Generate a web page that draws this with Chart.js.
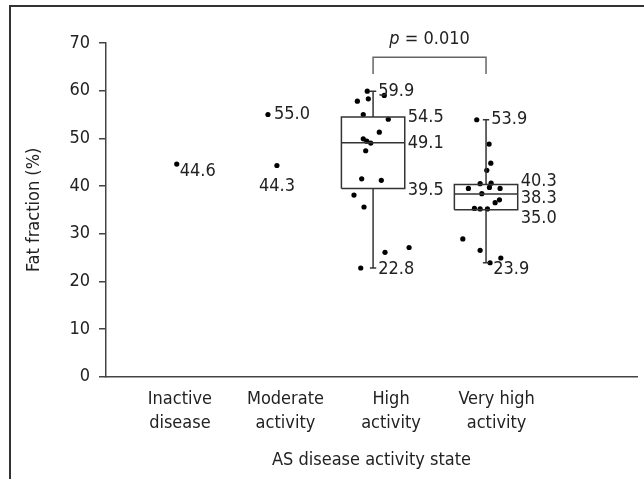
<!DOCTYPE html>
<html>
<head>
<meta charset="utf-8">
<script src="https://cdn.jsdelivr.net/npm/chart.js@4/dist/chart.umd.min.js"></script>
<style>
  html, body { margin: 0; padding: 0; background: #fff; }
  #wrap { position: relative; width: 644px; height: 479px; overflow: hidden; }
  #frame { position: absolute; left: 9px; top: 5px; right: -10px; bottom: -10px;
           border-top: 2px solid #333; border-left: 2px solid #333; }
  canvas { position: absolute; left: 0; top: 0; }
</style>
</head>
<body>
<div id="wrap">
  <div id="frame"></div>
  <canvas id="c" width="644" height="479"></canvas>
</div>
<script>
// ---------- data ----------
const categories = [["Inactive", "disease"], ["Moderate", "activity"], ["High", "activity"], ["Very high", "activity"]];
const yTicks = [0, 10, 20, 30, 40, 50, 60, 70];
const yAxisTitle = "Fat fraction (%)";
const xAxisTitle = "AS disease activity state";

const inactiveValues = [44.6];
const moderateValues = [55.0, 44.3];
const highValues = [59.9, 59.0, 57.8, 58.3, 55.0, 54.0, 51.3, 49.9, 49.4, 49.0, 47.4, 41.5, 41.2, 38.1, 35.6, 26.1, 27.1, 22.8];
const veryHighValues = [53.9, 48.8, 44.8, 43.3, 40.5, 40.6, 39.5, 39.7, 39.5, 38.4, 37.1, 36.5, 35.3, 35.2, 35.2, 28.9, 26.5, 24.9, 23.9];

// box stats: [min, q1, median, q3, max]
const highBox = [22.8, 39.5, 49.1, 54.5, 59.9];
const veryHighBox = [23.9, 35.0, 38.3, 40.3, 53.9];
const pValueLabel = ["p", " = 0.010"];

// ---------- layout (positions / jitter, not data) ----------
const groupCenter = [0.97, 1.88, 2.83, 3.90];
const inactiveJitter = [0];
const moderateJitter = [-0.046, 0.039];
const highJitter = [-0.055, 0.106, -0.149, -0.045, -0.093, 0.144, 0.059, -0.093, -0.06, -0.022, -0.07, -0.108, 0.078, -0.181, -0.086, 0.113, 0.341, -0.117];
const veryHighJitter = [-0.088, 0.029, 0.045, 0.007, -0.056, 0.048, -0.167, 0.032, 0.133, -0.04, 0.127, 0.086, -0.11, -0.056, 0.013, -0.22, -0.056, 0.14, 0.038];
const boxHalf = 0.30;
const capHalf = 0.03;
const bracketY = [63.5, 67.0];

const FONT = "'DejaVu Sans Condensed', 'DejaVu Sans', sans-serif";
const TXT = '#222';
const AX = '#444';
const LINE = '#333';

function pts(values, jitter, center) {
  return values.map((v, i) => ({ x: center + jitter[i], y: v }));
}
function lineDs(points, color, width) {
  return { type: 'scatter', data: points, showLine: true, borderColor: color || LINE, borderWidth: width || 1.5,
           pointRadius: 0, fill: false, tension: 0 };
}
function boxDatasets(stats, c) {
  const [mn, q1, md, q3, mx] = stats;
  return [
    lineDs([{x: c - boxHalf, y: q1}, {x: c + boxHalf, y: q1}, {x: c + boxHalf, y: q3}, {x: c - boxHalf, y: q3}, {x: c - boxHalf, y: q1}]),
    lineDs([{x: c - boxHalf, y: md}, {x: c + boxHalf, y: md}]),
    lineDs([{x: c, y: q3}, {x: c, y: mx}]),
    lineDs([{x: c, y: q1}, {x: c, y: mn}]),
    lineDs([{x: c - capHalf, y: mx}, {x: c + capHalf, y: mx}]),
    lineDs([{x: c - capHalf, y: mn}, {x: c + capHalf, y: mn}])
  ];
}
const dotStyle = { pointRadius: 2.6, pointBackgroundColor: '#000', pointBorderWidth: 0, showLine: false };

const datasets = [
  ...boxDatasets(highBox, groupCenter[2]),
  ...boxDatasets(veryHighBox, groupCenter[3]),
  lineDs([{x: groupCenter[2], y: bracketY[0]}, {x: groupCenter[2], y: bracketY[1]}, {x: groupCenter[3], y: bracketY[1]}, {x: groupCenter[3], y: bracketY[0]}], '#666', 1.5),
  Object.assign({ data: pts(inactiveValues, inactiveJitter, groupCenter[0]) }, dotStyle),
  Object.assign({ data: pts(moderateValues, moderateJitter, groupCenter[1]) }, dotStyle),
  Object.assign({ data: pts(highValues, highJitter, groupCenter[2]) }, dotStyle),
  Object.assign({ data: pts(veryHighValues, veryHighJitter, groupCenter[3]) }, dotStyle)
];

// value labels: value, anchor x (data units), pixel offset dx, dy, align, baseline
const valueLabels = [
  { v: inactiveValues[0], x: groupCenter[0] + inactiveJitter[0], dx: 3, dy: -2, align: 'left', base: 'top' },
  { v: moderateValues[0], x: groupCenter[1] + moderateJitter[0], dx: 6, dy: 0, align: 'left', base: 'middle' },
  { v: moderateValues[1], x: groupCenter[1] + moderateJitter[1], dx: 0, dy: 21, align: 'center', base: 'middle' },
  { v: highBox[4], x: groupCenter[2] + capHalf, dx: 2, dy: 0, align: 'left', base: 'middle' },
  { v: highBox[3], x: groupCenter[2] + boxHalf, dx: 3, dy: 0, align: 'left', base: 'middle' },
  { v: highBox[2], x: groupCenter[2] + boxHalf, dx: 3, dy: 1, align: 'left', base: 'middle' },
  { v: highBox[1], x: groupCenter[2] + boxHalf, dx: 3, dy: 2, align: 'left', base: 'middle' },
  { v: highBox[0], x: groupCenter[2] + capHalf, dx: 2, dy: 1, align: 'left', base: 'middle' },
  { v: veryHighBox[4], x: groupCenter[3] + capHalf, dx: 2, dy: 0, align: 'left', base: 'middle' },
  { v: veryHighBox[3], x: groupCenter[3] + boxHalf, dx: 3, dy: -3, align: 'left', base: 'middle' },
  { v: veryHighBox[2], x: groupCenter[3] + boxHalf, dx: 3, dy: 4, align: 'left', base: 'middle' },
  { v: veryHighBox[1], x: groupCenter[3] + boxHalf, dx: 3, dy: 8, align: 'left', base: 'middle' },
  { v: veryHighBox[0], x: groupCenter[3] + capHalf, dx: 4, dy: 7, align: 'left', base: 'middle' }
];

const labelPlugin = {
  id: 'labels',
  afterDatasetsDraw(chart) {
    const { ctx, scales: { x, y } } = chart;
    ctx.save();
    ctx.fillStyle = TXT;
    ctx.font = "18px " + FONT;
    valueLabels.forEach(l => {
      ctx.textAlign = l.align;
      ctx.textBaseline = l.base;
      ctx.fillText(l.v.toFixed(1), x.getPixelForValue(l.x) + l.dx, y.getPixelForValue(l.v) + l.dy);
    });
    // p-value text above bracket
    const cx = (x.getPixelForValue(groupCenter[2]) + x.getPixelForValue(groupCenter[3])) / 2;
    const cy = y.getPixelForValue(bracketY[1]) - 18;
    ctx.textBaseline = 'middle';
    ctx.font = "italic 18px " + FONT;
    const w1 = ctx.measureText(pValueLabel[0]).width;
    ctx.font = "18px " + FONT;
    const w2 = ctx.measureText(pValueLabel[1]).width;
    const sx = cx - (w1 + w2) / 2;
    ctx.textAlign = 'left';
    ctx.font = "italic 18px " + FONT;
    ctx.fillText(pValueLabel[0], sx, cy);
    ctx.font = "18px " + FONT;
    ctx.fillText(pValueLabel[1], sx + w1, cy);
    ctx.restore();
  }
};

new Chart(document.getElementById('c'), {
  type: 'scatter',
  data: { datasets },
  plugins: [labelPlugin],
  options: {
    responsive: false,
    animation: false,
    layout: { padding: { top: 43, right: 7, left: 0, bottom: 0 } },
    plugins: { legend: { display: false }, tooltip: { enabled: false } },
    scales: {
      x: {
        type: 'linear', min: 0.3, max: 5.33,
        afterBuildTicks: s => { s.ticks = categories.map((c, i) => ({ value: i + 1 })); },
        afterFit: s => { s.height = 102.3; },
        ticks: { callback: (v, i) => categories[i], padding: 11, color: TXT, maxRotation: 0, autoSkip: false,
                 font: { family: FONT, size: 18, lineHeight: 1.33 } },
        grid: { display: false, drawTicks: false },
        border: { display: true, color: AX, width: 1.5 },
        title: { display: true, text: xAxisTitle, color: TXT, font: { family: FONT, size: 18, lineHeight: 1.2 },
                 padding: { top: 0, bottom: 8 } }
      },
      y: {
        min: yTicks[0], max: yTicks[yTicks.length - 1],
        afterBuildTicks: s => { s.ticks = yTicks.map(v => ({ value: v })); },
        afterFit: s => { s.width = 106; },
        ticks: { padding: 9, color: TXT, font: { family: FONT, size: 18 } },
        grid: { drawOnChartArea: false, drawTicks: true, tickLength: 7, color: AX, lineWidth: 1.5 },
        border: { display: true, color: AX, width: 1.5 },
        title: { display: true, text: yAxisTitle, color: TXT, font: { family: FONT, size: 18, lineHeight: 1.2 },
                 padding: { top: 24, bottom: 0 } }
      }
    }
  }
});
</script>
</body>
</html>
